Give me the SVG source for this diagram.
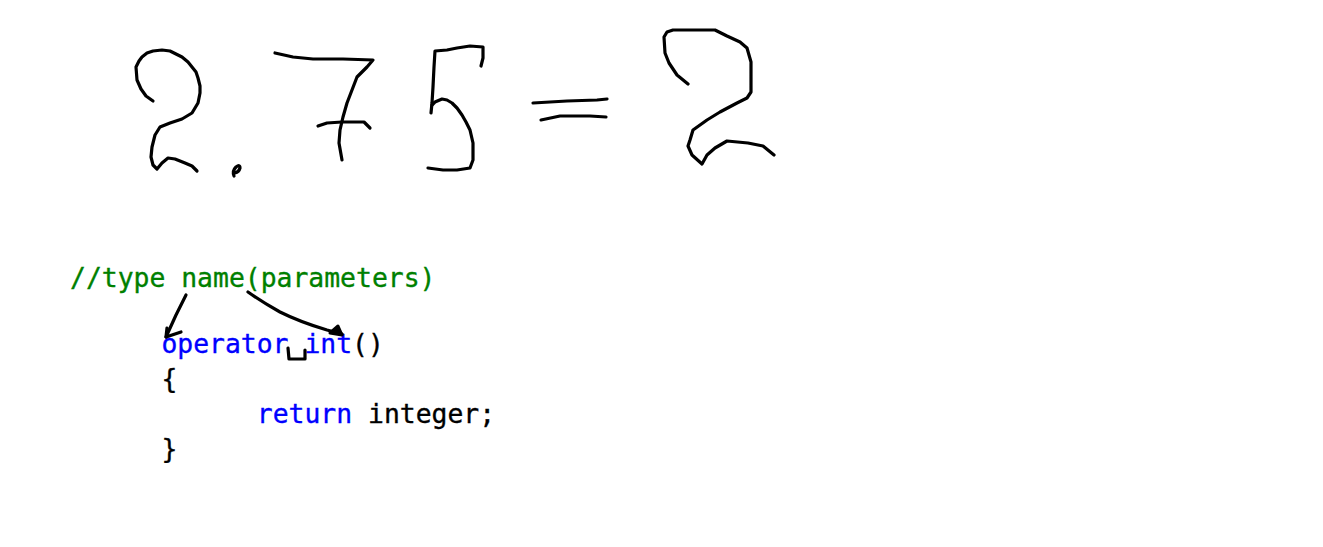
<svg xmlns="http://www.w3.org/2000/svg" width="1323" height="547" viewBox="0 0 1323 547">
<style>
.ink{fill:none;stroke:#000;stroke-width:3.2;stroke-linecap:round;stroke-linejoin:round}
.code{font-family:"DejaVu Sans Mono","Liberation Mono",monospace;font-size:26.4px;stroke-width:0.35px}
.cm{fill:#008000;stroke:#008000}
.kw{fill:#0000FF;stroke:#0000FF}
.pl{fill:#000;stroke:#000}
.head{fill:#000;stroke:#000;stroke-width:3;stroke-linejoin:round}
</style>
<rect width="1323" height="547" fill="#fff"/>
<g id="handwriting">
  <path id="digit-2a" class="ink" d="M153,101 L146,96 L141,89 L137,80 L136,67 L139,61 L142,57 L147,53 L153,51 L162,50 L170,51 L176,54 L182,57 L188,62 L192,67 L196,72 L198,78 L200,86 L200,93 L198,103 L192,113 L182,119 L170,123 L160,127 L155,135 L152,147 L151,157 L153,165 L157,169 L162,163 L168,158 L175,159 L185,163 L192,166 L197,171"/>
  <path id="dot" class="ink" stroke-width="2.5" d="M234,176 Q232,171 236,167 Q240,164 240,168 Q239,172 235,173"/>
  <path id="digit-7" class="ink" d="M275,53 L293,57 L313,59 L343,59 L373,60 L367,67 L357,77 L352,90 L347,103 L343,117 L340,130 L339,143 L342,160"/>
  <path id="digit-7-bar" class="ink" d="M318,126 L327,123 L342,122 L364,122 L370,128"/>
  <path id="digit-5-top" class="ink" d="M481,66 L483,58 L483,47 L470,46 L457,48 L447,50 L435,51 L434,67 L433,87 L432,103 L431,113"/>
  <path id="digit-5-bowl" class="ink" d="M432,105 L435,102 L442,99 L447,100 L452,103 L457,108 L462,115 L466,122 L470,130 L473,143 L473,160 L470,168 L457,170 L443,170 L428,168"/>
  <path id="equals-1" class="ink" d="M533,103 L567,101 L597,100 L607,99"/>
  <path id="equals-2" class="ink" d="M541,120 L560,116 L590,116 L606,117"/>
  <path id="digit-2b" class="ink" d="M688,84 L677,75 L669,63 L665,53 L664,37 L667,32 L673,30 L715,30 L727,36 L740,42 L747,48 L751,62 L751,92 L747,98 L737,103 L720,112 L707,120 L693,130 L690,140 L688,146 L692,155 L702,164 L707,155 L715,148 L727,141 L748,143 L763,146 L774,155"/>
</g>
<g id="code">
  <g id="comment"><text class="code cm" x="70" y="287">//type name(parameters)</text></g>
  <g id="signature"><text class="code pl" x="161.4" y="353"><tspan class="kw">operator int</tspan>()</text></g>
  <g id="open-brace"><text class="code pl" x="161.4" y="388">{</text></g>
  <g id="return-line"><text class="code pl" x="256.8" y="423"><tspan class="kw">return</tspan> integer;</text></g>
  <g id="close-brace"><text class="code pl" x="161.4" y="458">}</text></g>
  <path id="space-mark" class="ink" stroke-width="2.8" d="M288,348 L289,359 L305,359 L305,350"/>
</g>
<g id="connectors">
  <path class="ink" d="M186,295 L176,315 L166,337"/>
  <path class="ink" d="M167,328 L166,337 L181,332"/>
  <path class="ink" d="M248,292 Q262,302 280,312 Q300,322 327,330 L342,334"/>
  <path class="head" d="M330,333 L338,326 L342,335 Z"/>
</g>
</svg>
